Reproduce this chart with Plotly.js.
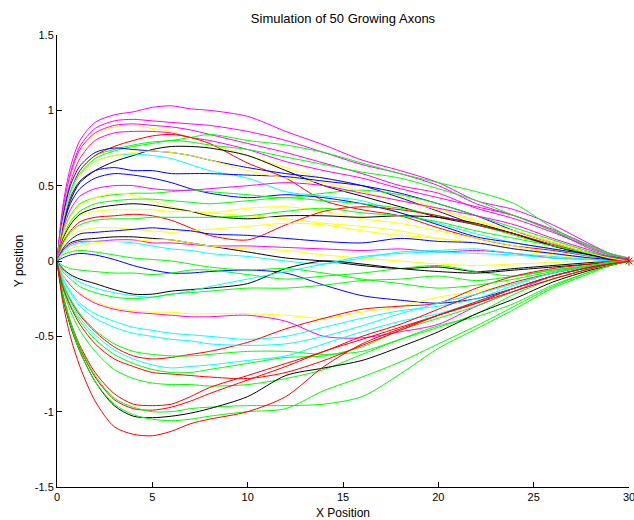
<!DOCTYPE html>
<html>
<head>
<meta charset="utf-8">
<script src="https://cdn.plot.ly/plotly-3.0.1.min.js"></script>
<style>html,body{margin:0;padding:0;background:#fff;}#chart{width:634px;height:520px;}</style>
</head>
<body>
<div id="chart"></div>
<script>
// shared x positions along the growth path
const xPos = [0, 0.3, 0.7, 1.2, 2, 3, 4, 5, 6, 7, 8, 10, 12, 14, 16, 18, 20, 22, 24, 26, 28, 29, 30];

const y01 = [0, .36, .62, .80, .92, .97, .99, 1.02, 1.03, 1.01, 1.0, .96, .86, .77, .67, .60, .52, .40, .34, .24, .11, .05, .01];
const y02 = [0, .33, .58, .76, .88, .93, .94, .93, .92, .91, .90, .86, .80, .72, .64, .58, .50, .38, .30, .21, .10, .05, .02];
const y03 = [0, .32, .56, .74, .85, .90, .91, .90, .89, .87, .84, .78, .72, .65, .58, .50, .45, .35, .28, .19, .09, .04, .00];
const y04 = [0, .30, .55, .72, .84, .89, .90, .88, .86, .82, .78, .70, .62, .55, .50, .43, .35, .27, .20, .13, .06, .03, .01];
const y05 = [0, .30, .52, .68, .80, .85, .86, .86, .85, .82, .80, .74, .66, .60, .55, .48, .42, .36, .30, .20, .08, .04, .00];
const y06 = [0, .26, .46, .60, .70, .74, .77, .79, .80, .82, .84, .80, .77, .72, .65, .58, .52, .46, .38, .22, .09, .04, .01];
const y07 = [0, .25, .45, .60, .70, .76, .80, .83, .84, .82, .78, .65, .55, .40, .34, .30, .22, .15, .10, .07, .03, .01, -.01];
const y08 = [0, .25, .44, .58, .68, .73, .76, .78, .80, .79, .77, .74, .69, .64, .59, .55, .48, .40, .30, .20, .10, .05, .02];
const y09 = [0, .22, .40, .52, .60, .66, .70, .74, .76, .76, .75, .70, .60, .50, .43, .36, .29, .24, .18, .10, .04, .02, -.01];
const y10 = [0, .28, .50, .63, .72, .75, .74, .73, .72, .70, .67, .62, .58, .55, .50, .42, .33, .24, .18, .10, .05, .02, .00];
const y11 = [0, .26, .46, .58, .66, .70, .71, .70, .68, .64, .60, .55, .46, .43, .40, .32, .25, .18, .12, .08, .03, .00, -.02];
const y12 = [0, .24, .42, .53, .60, .62, .60, .60, .58, .58, .58, .57, .56, .53, .50, .45, .38, .30, .20, .12, .05, .03, .01];
const y13 = [0, .22, .38, .48, .55, .58, .57, .55, .52, .48, .45, .42, .44, .42, .38, .32, .24, .16, .12, .08, .04, .01, -.01];
const y14 = [0, .18, .30, .38, .42, .44, .45, .45, .46, .47, .46, .44, .42, .45, .47, .44, .38, .30, .22, .14, .06, .03, .00];
const y15 = [0, .17, .29, .37, .42, .45, .44, .40, .36, .33, .32, .35, .36, .33, .28, .25, .20, .15, .10, .05, .02, .00, -.01];
const y16 = [0, .15, .26, .33, .38, .40, .41, .41, .40, .39, .38, .40, .42, .40, .38, .35, .30, .24, .17, .10, .05, .02, .01];
const y17 = [0, .14, .24, .31, .35, .37, .38, .37, .35, .33, .30, .28, .30, .30, .29, .30, .29, .25, .18, .10, .04, .02, .00];
const y18 = [0, .13, .23, .30, .33, .34, .34, .34, .33, .33, .32, .30, .28, .25, .23, .20, .15, .12, .08, .05, .02, .00, -.02];
const y19 = [0, .12, .20, .26, .29, .30, .31, .30, .27, .22, .17, .14, .24, .33, .36, .34, .30, .24, .18, .11, .05, .02, .00];
const y20 = [0, .11, .19, .24, .27, .28, .28, .29, .29, .29, .29, .30, .33, .35, .32, .30, .26, .20, .15, .10, .05, .02, .00];
const y21 = [0, .09, .16, .20, .22, .22, .21, .20, .19, .20, .21, .23, .25, .24, .20, .17, .15, .12, .08, .04, .02, .00, -.01];
const y22 = [0, .08, .14, .18, .19, .20, .21, .22, .21, .20, .18, .17, .15, .13, .12, .15, .13, .12, .08, .05, .02, .01, .00];
const y23 = [0, .07, .12, .14, .15, .16, .16, .15, .14, .12, .10, .06, .02, .00, -.03, -.05, -.04, -.07, -.05, -.03, -.01, .00, .01];
const y24 = [0, .07, .11, .13, .13, .14, .14, .12, .12, .11, .10, .10, .09, .08, .07, .08, .06, .07, .05, .02, .01, .00, .02];
const y25 = [0, .06, .10, .12, .13, .13, .12, .10, .08, .07, .05, .03, .00, -.02, .02, .06, .07, .08, .05, .03, .01, .00, -.01];
const y26 = [0, .05, .08, .10, .12, .13, .13, .14, .14, .12, .10, .08, .07, .04, .02, .00, -.02, -.03, -.02, -.01, .00, .00, .01];
const y27 = [0, .02, .04, .05, .04, .01, -.03, -.06, -.08, -.08, -.07, -.06, -.08, -.16, -.23, -.26, -.28, -.25, -.18, -.10, -.04, -.02, .00];
const y28 = [0, -.03, -.05, -.06, -.07, -.08, -.08, -.09, -.08, -.06, -.06, -.09, -.12, -.10, -.08, -.05, -.03, -.07, -.10, -.06, -.03, -.01, .00];
const y29 = [0, -.05, -.09, -.12, -.15, -.19, -.22, -.22, -.20, -.19, -.18, -.15, -.05, .00, -.02, -.05, -.07, -.08, -.06, -.04, -.02, -.01, .00];
const y30 = [0, -.06, -.10, -.14, -.18, -.21, -.23, -.24, -.22, -.20, -.17, -.12, -.07, -.02, .03, .05, .06, .05, .04, .02, .01, .00, .00];
const y31 = [0, -.07, -.12, -.17, -.21, -.24, -.25, -.24, -.22, -.21, -.20, -.18, -.18, -.16, -.13, -.12, -.10, -.13, -.10, -.06, -.03, -.01, .01];
const y32 = [0, -.09, -.16, -.22, -.28, -.32, -.34, -.35, -.36, -.37, -.37, -.36, -.40, -.50, -.51, -.47, -.42, -.30, -.20, -.10, -.04, -.02, .00];
const y33 = [0, -.09, -.15, -.21, -.27, -.31, -.33, -.34, -.34, -.35, -.35, -.35, -.36, -.38, -.34, -.30, -.24, -.20, -.15, -.08, -.03, -.01, .00];
const y34 = [0, -.11, -.20, -.28, -.35, -.40, -.44, -.46, -.48, -.49, -.50, -.52, -.50, -.44, -.38, -.33, -.30, -.25, -.16, -.08, -.04, -.02, .00];
const y35 = [0, -.15, -.26, -.36, -.47, -.57, -.63, -.65, -.64, -.62, -.60, -.54, -.45, -.38, -.32, -.30, -.28, -.18, -.10, -.05, -.02, .00, .01];
const y36 = [0, -.14, -.25, -.35, -.46, -.55, -.60, -.62, -.63, -.63, -.62, -.60, -.60, -.62, -.60, -.52, -.44, -.35, -.22, -.12, -.05, -.02, .00];
const y37 = [0, -.15, -.27, -.38, -.49, -.59, -.65, -.69, -.71, -.70, -.69, -.66, -.63, -.55, -.47, -.40, -.35, -.27, -.18, -.10, -.04, -.02, .01];
const y38 = [0, -.16, -.29, -.40, -.52, -.62, -.68, -.72, -.74, -.74, -.72, -.68, -.64, -.63, -.57, -.46, -.38, -.30, -.20, -.12, -.05, -.02, .00];
const y39 = [0, -.18, -.33, -.46, -.60, -.72, -.78, -.81, -.82, -.82, -.83, -.82, -.78, -.72, -.62, -.52, -.43, -.37, -.28, -.16, -.07, -.03, .00];
const y40 = [0, -.22, -.40, -.56, -.74, -.88, -.95, -.96, -.95, -.90, -.84, -.76, -.68, -.60, -.50, -.42, -.32, -.22, -.14, -.08, -.03, -.01, .01];
const y41 = [0, -.22, -.41, -.58, -.77, -.92, -.98, -.99, -.97, -.93, -.88, -.79, -.70, -.60, -.52, -.44, -.36, -.28, -.18, -.10, -.04, -.02, .00];
const y42 = [0, -.22, -.40, -.57, -.76, -.91, -.97, -1.00, -1.00, -.98, -.97, -.96, -.96, -.95, -.90, -.75, -.58, -.45, -.32, -.18, -.08, -.03, .00];
const y43 = [0, -.24, -.43, -.60, -.80, -.96, -1.03, -1.04, -1.03, -1.01, -.98, -.90, -.76, -.71, -.66, -.57, -.47, -.35, -.25, -.14, -.06, -.03, .00];
const y44 = [0, -.23, -.42, -.60, -.80, -.95, -1.02, -1.05, -1.06, -1.05, -1.03, -1.00, -.98, -.86, -.77, -.67, -.55, -.43, -.30, -.17, -.07, -.03, .00];
const y45 = [0, -.27, -.50, -.70, -.93, -1.10, -1.15, -1.16, -1.13, -1.08, -1.05, -1.00, -.90, -.70, -.55, -.45, -.36, -.27, -.18, -.10, -.04, -.02, .00];
const y46 = [0, -.12, -.21, -.30, -.38, -.44, -.48, -.50, -.52, -.53, -.55, -.56, -.55, -.50, -.43, -.35, -.28, -.22, -.15, -.08, -.03, -.01, .00];
const y47 = [0, .25, .44, .57, .66, .70, .72, .73, .72, .70, .67, .60, .55, .52, .46, .40, .34, .26, .20, .12, .05, .02, .00];
const y48 = [0, .20, .34, .43, .48, .50, .50, .48, .47, .47, .48, .50, .52, .50, .45, .40, .35, .30, .24, .15, .07, .03, .01];
const y49 = [0, .04, .06, .07, .06, .04, .02, .01, .00, -.02, -.04, -.06, -.05, -.08, -.12, -.15, -.18, -.16, -.12, -.07, -.03, -.01, .00];
const y50 = [0, -.17, -.30, -.42, -.55, -.65, -.70, -.74, -.75, -.76, -.77, -.78, -.74, -.66, -.56, -.46, -.36, -.28, -.20, -.12, -.05, -.02, .00];

const allY = [y01,y02,y03,y04,y05,y06,y07,y08,y09,y10,y11,y12,y13,y14,y15,y16,y17,y18,y19,y20,
              y21,y22,y23,y24,y25,y26,y27,y28,y29,y30,y31,y32,y33,y34,y35,y36,y37,y38,y39,y40,
              y41,y42,y43,y44,y45,y46,y47,y48,y49,y50];
const lineColors = ['m','m','m','y','m','g','r','g','k','b','c','b','b','g','y','g','k','y','r','g',
                    'y','b','k','m','c','y','b','g','k','c','g','m','y','c','r','g','c','g','g','r',
                    'r','g','k','g','r','c','y','m','g','r'];
const colorMap = {b:'#0000ff', g:'#00ff00', r:'#ff0000', c:'#00ffff', m:'#ff00ff', y:'#ffff00', k:'#000000'};

const targetX = [30];
const targetY = [0];

const yTickVals = [-1.5, -1, -0.5, 0, 0.5, 1, 1.5];
const yTickText = ['-1.5', '-1', '-0.5', '0', '0.5', '1', '1.5'];
const xTickVals = [0, 5, 10, 15, 20, 25, 30];
const xTickText = ['0', '5', '10', '15', '20', '25', '30'];

const traces = allY.map((ys, i) => ({
  x: xPos, y: ys, type: 'scatter', mode: 'lines',
  line: {color: colorMap[lineColors[i]], width: 1, shape: 'spline', smoothing: 0.8},
  hoverinfo: 'skip', showlegend: false
}));
traces.push({
  x: targetX, y: targetY, type: 'scatter', mode: 'markers',
  marker: {symbol: 'asterisk-open', size: 8, color: '#ff0000', line: {color: '#ff0000', width: 1}},
  showlegend: false, cliponaxis: false
});

const font = {family: 'Liberation Sans, Arial, Helvetica, sans-serif', size: 11, color: '#000'};

const layout = {
  width: 634, height: 520,
  margin: {l: 57, r: 5, t: 35, b: 33},
  paper_bgcolor: '#fff', plot_bgcolor: '#fff',
  font: font,
  title: {text: 'Simulation of 50 Growing Axons', font: {family: font.family, size: 13, color: '#000'}, x: 0.541, xanchor: 'center', y: 0.965, yanchor: 'middle'},
  xaxis: {
    range: [0, 30], tickvals: xTickVals, ticktext: xTickText,
    ticks: 'inside', ticklen: 5, tickcolor: '#000', tickwidth: 1,
    showline: true, linecolor: '#000', linewidth: 1, mirror: false,
    showgrid: false, zeroline: false, automargin: false,
    ticklabeloverflow: 'allow',
    tickfont: font,
    title: {text: 'X Position', font: {family: font.family, size: 12, color: '#000'}, standoff: 7}
  },
  yaxis: {
    range: [-1.5, 1.5], tickvals: yTickVals, ticktext: yTickText,
    ticks: 'inside', ticklen: 5, tickcolor: '#000', tickwidth: 1,
    showline: true, linecolor: '#000', linewidth: 1, mirror: false,
    showgrid: false, zeroline: false, automargin: false,
    ticklabeloverflow: 'allow',
    tickfont: font,
    title: {text: 'Y position', font: {family: font.family, size: 12, color: '#000'}, standoff: 8}
  }
};

Plotly.newPlot('chart', traces, layout, {staticPlot: true, displayModeBar: false});
</script>
</body>
</html>
